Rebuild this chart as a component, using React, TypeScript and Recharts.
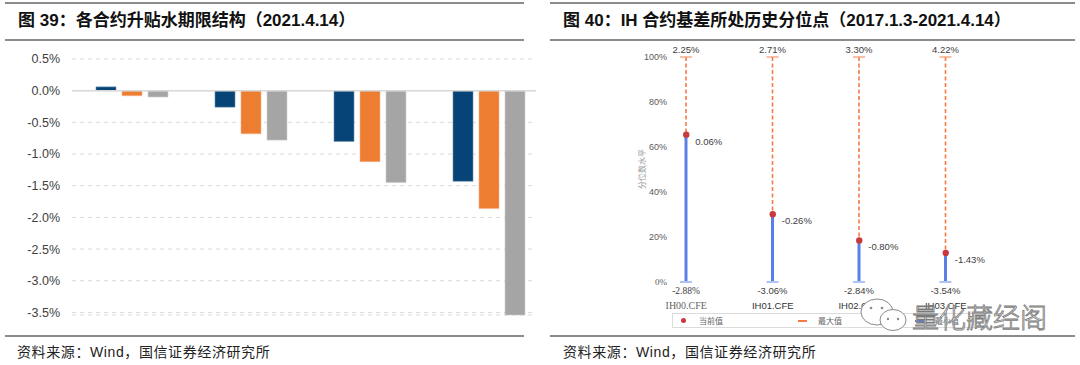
import {
  BarChart,
  Bar,
  ComposedChart,
  Line,
  LabelList,
  XAxis,
  YAxis,
  CartesianGrid,
  ReferenceLine,
} from "recharts";

// 图39 各合约升贴水期限结构 (%)
const terms = ["当月", "下月", "当季", "下季"];
const ihBasis = [0.06, -0.26, -0.8, -1.43];
const ifBasis = [-0.08, -0.68, -1.12, -1.86];
const icBasis = [-0.1, -0.78, -1.45, -3.54];
const basisTicks = [0.5, 0, -0.5, -1, -1.5, -2, -2.5, -3, -3.5];

// 图40 IH合约基差历史分位点
const contracts = ["IH00.CFE", "IH01.CFE", "IH02.CFE", "IH03.CFE"];
const percentile = [65.5, 30.1, 18.5, 12.9];
const currentBasis = ["0.06%", "-0.26%", "-0.80%", "-1.43%"];
const maxBasis = ["2.25%", "2.71%", "3.30%", "4.22%"];
const minBasis = ["-2.88%", "-3.06%", "-2.84%", "-3.54%"];
const pctTicks = [0, 20, 40, 60, 80, 100];

const termData = terms.map((t, i) => ({
  term: t,
  IH: ihBasis[i],
  IF: ifBasis[i],
  IC: icBasis[i],
}));

const pctData = contracts.map((c, i) => ({
  name: c,
  pct: percentile[i],
  rest: 100 - percentile[i],
  cur: currentBasis[i],
  max: maxBasis[i],
  min: minBasis[i],
}));

const SANS = "'Liberation Sans', 'Noto Sans CJK SC', sans-serif";
const CJK = "'Noto Sans CJK SC', 'Liberation Sans', sans-serif";

const BlueStick = (props: any) => {
  const { x, y, width, height, payload, index } = props;
  const cx = x + width / 2;
  const bottom = y + height;
  return (
    <g>
      <line x1={cx} x2={cx} y1={y} y2={bottom} stroke="#5a7fe6" strokeWidth={3} />
      <line x1={x - 1} x2={x + width + 1} y1={bottom} y2={bottom} stroke="#aec3f6" strokeWidth={2} />
      <text
        x={cx}
        y={bottom + 12}
        textAnchor="middle"
        fontSize={9.5}
        fill="#404040"
        fontFamily={index === 0 ? "'Liberation Serif', serif" : SANS}
      >
        {payload.min}
      </text>
    </g>
  );
};

const OrangeStick = (props: any) => {
  const { x, y, width, height, payload } = props;
  const cx = x + width / 2;
  return (
    <g>
      <line
        x1={cx}
        x2={cx}
        y1={y}
        y2={y + height}
        stroke="#f57a45"
        strokeWidth={1.6}
        strokeDasharray="4 2.5"
      />
      <line x1={x - 1} x2={x + width + 1} y1={y} y2={y} stroke="#f7956a" strokeWidth={1.2} />
      <text x={cx} y={y - 4} textAnchor="middle" fontSize={9.5} fill="#404040" fontFamily={SANS}>
        {payload.max}
      </text>
    </g>
  );
};

const CurLabel = (props: any) => {
  const { x, y, value } = props;
  return (
    <text x={x + 9} y={y + 10} fontSize={9.5} fill="#404040" fontFamily={SANS}>
      {value}
    </text>
  );
};

const PctTick = (props: any) => {
  const { x, y, payload } = props;
  return (
    <text
      x={x + 24}
      y={y + 3}
      textAnchor="end"
      fontSize={9}
      fill="#595959"
      fontFamily={payload.value === 0 ? "'Liberation Serif', serif" : SANS}
    >
      {payload.value}%
    </text>
  );
};

const NameTick = (props: any) => {
  const { x, y, payload, index } = props;
  const first = index === 0;
  return (
    <text
      x={x}
      y={y + 27}
      textAnchor="middle"
      fontSize={first ? 10 : 9.5}
      fill={first ? "#666" : "#333"}
      fontFamily={first ? "'Liberation Serif', serif" : SANS}
    >
      {payload.value}
    </text>
  );
};

const rule = (left: number, top: number, width: number) => (
  <div
    style={{
      position: "absolute",
      left,
      top,
      width,
      height: 2,
      background: "#8c8c8c",
    }}
  />
);

export default function App() {
  return (
    <div
      style={{
        position: "fixed",
        left: 0,
        top: 0,
        width: 1080,
        height: 365,
        background: "#fff",
        overflow: "hidden",
        fontFamily: SANS,
      }}
    >
      {rule(5, 2, 519)}
      {rule(5, 39, 519)}
      {rule(5, 335, 519)}
      {rule(550, 2, 525)}
      {rule(550, 39, 525)}
      {rule(550, 335, 525)}

      <div
        style={{
          position: "absolute",
          left: 18,
          top: 11,
          fontSize: 17,
          fontWeight: 700,
          color: "#111",
          whiteSpace: "nowrap",
          lineHeight: "20px",
        }}
      >
        图 39：各合约升贴水期限结构（2021.4.14）
      </div>
      <div
        style={{
          position: "absolute",
          left: 563,
          top: 11,
          fontSize: 17,
          fontWeight: 700,
          color: "#111",
          whiteSpace: "nowrap",
          lineHeight: "20px",
        }}
      >
        图 40：IH 合约基差所处历史分位点（2017.1.3-2021.4.14）
      </div>

      <div
        style={{
          position: "absolute",
          left: 17,
          top: 343,
          fontSize: 14,
          color: "#222",
          whiteSpace: "nowrap",
          lineHeight: "18px",
          letterSpacing: 0.6,
        }}
      >
        资料来源：Wind，国信证券经济研究所
      </div>
      <div
        style={{
          position: "absolute",
          left: 563,
          top: 343,
          fontSize: 14,
          color: "#222",
          whiteSpace: "nowrap",
          lineHeight: "18px",
          letterSpacing: 0.6,
        }}
      >
        资料来源：Wind，国信证券经济研究所
      </div>

      {/* left chart */}
      <div style={{ position: "absolute", left: 0, top: 0, width: 536, height: 330, overflow: "hidden" }}>
        <BarChart
          width={560}
          height={330}
          data={termData}
          margin={{ top: 59, right: 12, bottom: 15, left: 0 }}
          barSize={20}
          barGap={6}
        >
          <CartesianGrid vertical={false} stroke="#d9d9d9" strokeDasharray="4 4" />
          <XAxis dataKey="term" hide />
          <YAxis
            width={72}
            domain={[-3.5, 0.5]}
            ticks={basisTicks}
            axisLine={false}
            tickLine={false}
            tickSize={0}
            tickMargin={12}
            tickFormatter={(v: number) => `${v.toFixed(1)}%`}
            tick={{ fontSize: 12.5, fill: "#404040", fontFamily: SANS }}
          />
          <ReferenceLine y={0} stroke="#d9d9d9" strokeWidth={1.5} />
          <Bar dataKey="IH" fill="#064477" stroke="#6d8fb0" strokeWidth={0.6} isAnimationActive={false} />
          <Bar dataKey="IF" fill="#ed7d31" stroke="#f6b48a" strokeWidth={0.6} isAnimationActive={false} />
          <Bar dataKey="IC" fill="#a5a5a5" stroke="#cfcfcf" strokeWidth={0.6} isAnimationActive={false} />
        </BarChart>
      </div>

      {/* right chart */}
      <div style={{ position: "absolute", left: 550, top: 0, width: 530, height: 336 }}>
        <ComposedChart
          width={530}
          height={336}
          data={pctData}
          margin={{ top: 57, right: 91, bottom: 0, left: 0 }}
          barSize={10}
        >
          <XAxis
            dataKey="name"
            axisLine={false}
            tickLine={false}
            tickSize={0}
            tickMargin={0}
            height={54}
            interval={0}
            tick={<NameTick />}
          />
          <YAxis
            width={93}
            domain={[0, 100]}
            ticks={pctTicks}
            axisLine={false}
            tickLine={false}
            tickSize={0}
            tickMargin={0}
            tick={<PctTick />}
          />
          <Bar dataKey="pct" stackId="s" shape={<BlueStick />} isAnimationActive={false} />
          <Bar dataKey="rest" stackId="s" shape={<OrangeStick />} isAnimationActive={false} />
          <Line
            dataKey="pct"
            stroke="none"
            dot={{ r: 3.2, fill: "#c8383d", stroke: "none" }}
            activeDot={false}
            isAnimationActive={false}
          >
            <LabelList dataKey="cur" content={<CurLabel />} />
          </Line>
        </ComposedChart>
      </div>

      {/* y axis title */}
      <div
        style={{
          position: "absolute",
          left: 617,
          top: 164,
          width: 50,
          textAlign: "center",
          fontSize: 8,
          color: "#999",
          fontFamily: CJK,
          transform: "rotate(-90deg)",
          whiteSpace: "nowrap",
          lineHeight: "10px",
        }}
      >
        分位数水平
      </div>

      {/* legend */}
      <div
        style={{
          position: "absolute",
          left: 672,
          top: 313,
          width: 330,
          height: 13,
          border: "1px solid #dcdcdc",
          fontSize: 8,
          color: "#666",
          fontFamily: CJK,
          lineHeight: "13px",
        }}
      >
        <span style={{ position: "absolute", left: 8, top: 4, width: 5, height: 5, borderRadius: 3, background: "#c8383d" }} />
        <span style={{ position: "absolute", left: 26, top: 0 }}>当前值</span>
        <span style={{ position: "absolute", left: 125, top: 6, width: 9, height: 1.5, background: "#f57a45" }} />
        <span style={{ position: "absolute", left: 145, top: 0 }}>最大值</span>
        <span style={{ position: "absolute", left: 242, top: 6, width: 9, height: 1.5, background: "#5a7fe6" }} />
        <span style={{ position: "absolute", left: 262, top: 0 }}>最小值</span>
      </div>

      {/* watermark */}
      <svg style={{ position: "absolute", left: 855, top: 292 }} width={200} height={45}>
        <ellipse cx={22} cy={20} rx={16} ry={13} fill="#fff" stroke="#8a8a8a" strokeWidth={1} />
        <ellipse cx={38} cy={28} rx={13} ry={10.5} fill="#fff" stroke="#8a8a8a" strokeWidth={1} />
        <circle cx={33} cy={27} r={1.2} fill="#8a8a8a" />
        <circle cx={43} cy={27} r={1.2} fill="#8a8a8a" />
        <circle cx={16} cy={16} r={1.3} fill="#8a8a8a" />
        <circle cx={27} cy={16} r={1.3} fill="#8a8a8a" />
        <text
          x={57}
          y={36}
          fontSize={27}
          fill="rgba(255,255,255,0.75)"
          stroke="#7a7a7a"
          strokeWidth={0.8}
          fontFamily={CJK}
          fontWeight={300}
        >
          量化藏经阁
        </text>
      </svg>
    </div>
  );
}
